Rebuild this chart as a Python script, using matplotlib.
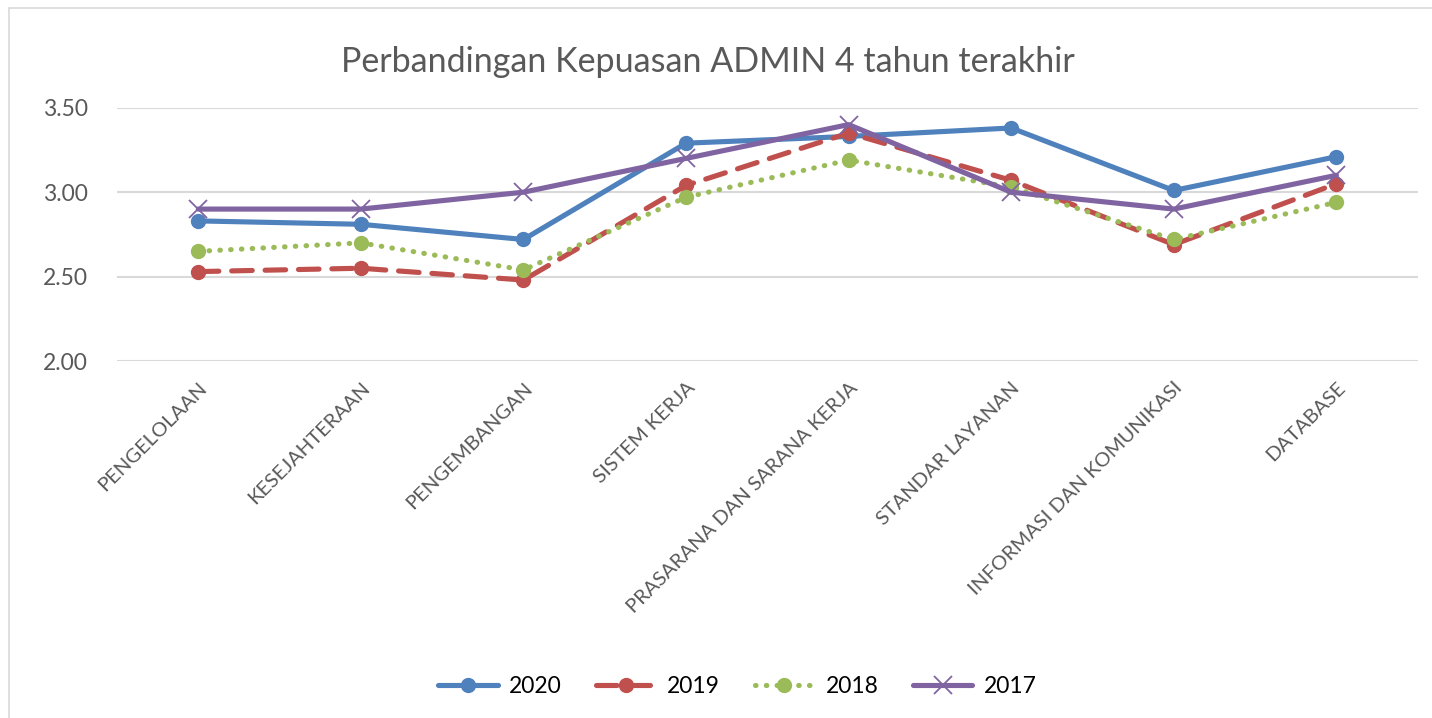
import matplotlib.pyplot as plt
from matplotlib.patches import Rectangle

# data
kategori = ["PENGELOLAAN", "KESEJAHTERAAN", "PENGEMBANGAN", "SISTEM KERJA",
            "PRASARANA DAN SARANA KERJA", "STANDAR LAYANAN",
            "INFORMASI DAN KOMUNIKASI", "DATABASE"]
nilai_2020 = [2.83, 2.81, 2.72, 3.29, 3.33, 3.38, 3.01, 3.21]
nilai_2019 = [2.53, 2.55, 2.48, 3.04, 3.35, 3.07, 2.69, 3.05]
nilai_2018 = [2.65, 2.70, 2.54, 2.97, 3.19, 3.03, 2.72, 2.94]
nilai_2017 = [2.90, 2.90, 3.00, 3.20, 3.40, 3.00, 2.90, 3.10]

plt.rcParams['font.family'] = ['Lato', 'DejaVu Sans']

fig = plt.figure(figsize=(14.32, 7.18), dpi=100)
ax = fig.add_axes([0.0817, 0.497, 0.9083, 0.353])

x = range(len(kategori))
ax.plot(x, nilai_2020, color='#4f81bd', lw=3.7, marker='o', ms=10, label='2020',
        solid_capstyle='round', zorder=3)
ax.plot(x, nilai_2019, color='#c0504d', lw=3.7, marker='o', ms=10, label='2019',
        linestyle=(0, (4, 2.5)), dash_capstyle='round', zorder=3)
ax.plot(x, nilai_2018, color='#9bbb59', lw=3.7, marker='o', ms=10, label='2018',
        linestyle=(0, (0.1, 2)), dash_capstyle='round', zorder=3)
ax.plot(x, nilai_2017, color='#8064a2', lw=3.7, marker='x', ms=13, mew=1.3, label='2017',
        solid_capstyle='round', zorder=4)

ax.set_xlim(-0.5, len(kategori) - 0.5)
ax.set_ylim(2.0, 3.5)
ax.set_yticks([2.0, 2.5, 3.0, 3.5])
ax.set_yticklabels(["2.00", "2.50", "3.00", "3.50"], fontsize=16.5, color='#595959')
ax.set_xticks(list(x))
ax.set_xticklabels(kategori, rotation=45, ha='right', rotation_mode='anchor',
                   fontsize=14.5, color='#595959')
ax.tick_params(axis='y', length=0, pad=21)
ax.tick_params(axis='x', length=0, pad=13)
ax.yaxis.grid(True, color='#d9d9d9', lw=1.5)
ax.set_axisbelow(True)
for s in ax.spines.values():
    s.set_visible(False)

fig.text(0.494, 0.913, "Perbandingan Kepuasan ADMIN 4 tahun terakhir",
         ha='center', va='center', fontsize=24.5, color='#595959')

fig.legend(loc='center', bbox_to_anchor=(0.515, 0.044), ncol=4, frameon=False,
           fontsize=16.5, handlelength=2.6, columnspacing=1.5, handletextpad=0.5)

# chart area border
fig.patches.append(Rectangle((0.006, -0.01), 1.0, 0.999, transform=fig.transFigure,
                             fill=False, edgecolor='#d9d9d9', lw=1.2))

fig.savefig("out.png", dpi=100)
